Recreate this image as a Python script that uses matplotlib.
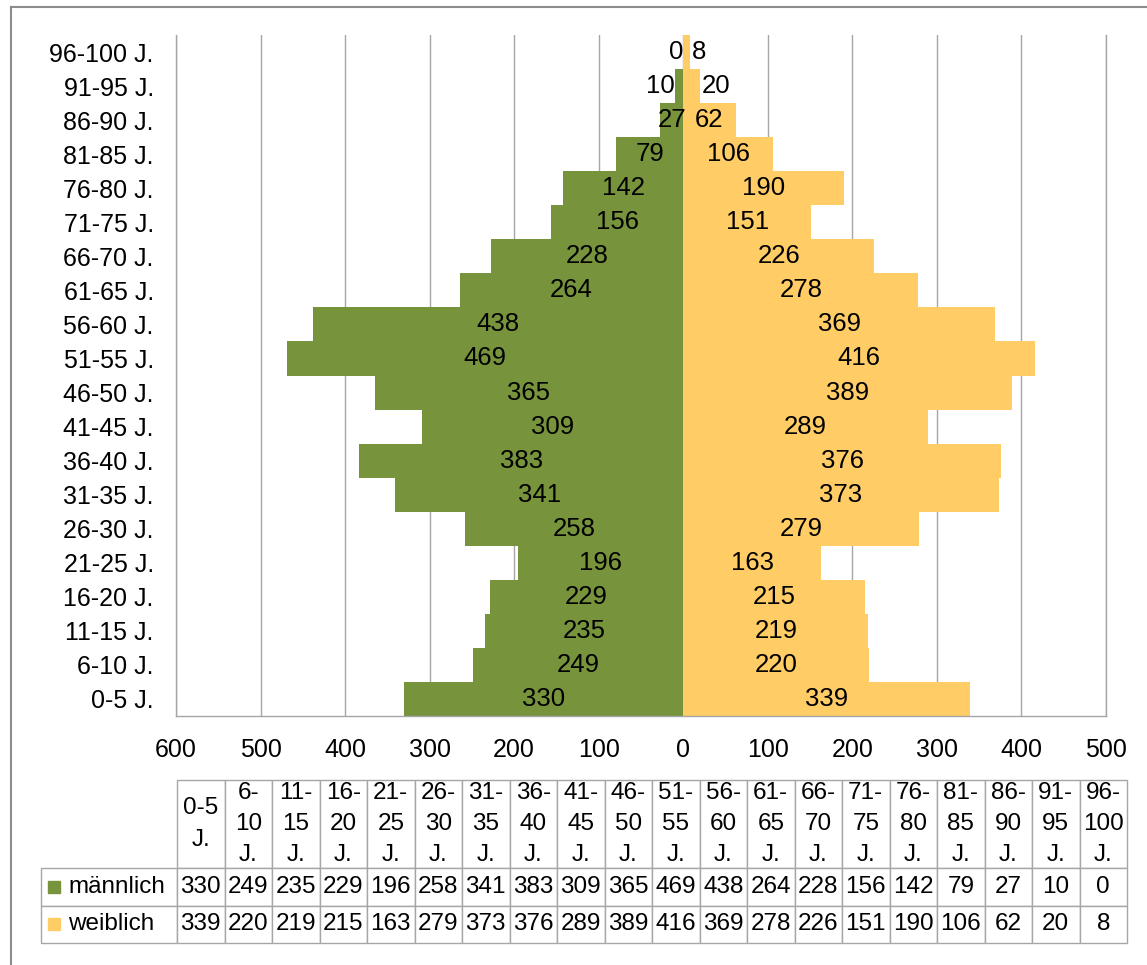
import matplotlib
import matplotlib.pyplot as plt
from matplotlib.lines import Line2D
from matplotlib.patches import Rectangle
from matplotlib.ticker import FuncFormatter

matplotlib.use("Agg")
plt.rcParams['font.family'] = ['Liberation Sans', 'DejaVu Sans']

AGE_GROUPS = ['0-5 J.', '6-10 J.', '11-15 J.', '16-20 J.', '21-25 J.', '26-30 J.',
              '31-35 J.', '36-40 J.', '41-45 J.', '46-50 J.', '51-55 J.', '56-60 J.',
              '61-65 J.', '66-70 J.', '71-75 J.', '76-80 J.', '81-85 J.', '86-90 J.',
              '91-95 J.', '96-100 J.']
MALE = [330, 249, 235, 229, 196, 258, 341, 383, 309, 365, 469, 438, 264, 228,
        156, 142, 79, 27, 10, 0]
FEMALE = [339, 220, 219, 215, 163, 279, 373, 376, 289, 389, 416, 369, 278, 226,
          151, 190, 106, 62, 20, 8]
SERIES_NAMES = ['männlich', 'weiblich']
X_TICKS = list(range(-600, 501, 100))

GREEN = '#77933C'
YELLOW = '#FFCC66'
GRID = '#A6A6A6'

W, H = 1147, 965  # figure size in pixels


def header_label(group):
    lo, rest = group.split('-')
    hi, unit = rest.split(' ')
    if len(lo) + len(hi) <= 2:
        return f"{lo}-{hi}\n{unit}"
    return f"{lo}-\n{hi}\n{unit}"


def main():
    fig = plt.figure(figsize=(W / 100, H / 100), dpi=100)

    # plot area in pixels
    left, right, top, bottom = 176, 1106, 35, 716
    pw, ph = right - left, bottom - top
    ax = fig.add_axes([left / W, 1 - bottom / H, pw / W, ph / H])

    y = list(range(len(AGE_GROUPS)))
    ax.barh(y, [-v for v in MALE], height=1.0, color=GREEN, zorder=2)
    ax.barh(y, FEMALE, height=1.0, color=YELLOW, zorder=2)

    ax.set_xlim(-600, 500)
    ax.set_ylim(-0.5, len(AGE_GROUPS) - 0.5)
    ax.set_xticks(X_TICKS)
    ax.xaxis.set_major_formatter(FuncFormatter(lambda v, _: f"{abs(int(round(v)))}"))
    ax.set_yticks(y)
    ax.set_yticklabels(AGE_GROUPS)
    ax.tick_params(length=0, labelsize=18, pad=16)
    ax.grid(axis='x', color=GRID, lw=1)
    ax.set_axisbelow(True)
    for side in ['left', 'bottom', 'right']:
        ax.spines[side].set_color(GRID)
        ax.spines[side].set_linewidth(1)
    ax.spines['top'].set_visible(False)

    # data labels: centred, or just outside when the bar is too narrow
    fs = 18.5
    for yi, m, f in zip(y, MALE, FEMALE):
        if m < 25:
            ax.text(-m, yi, str(m), ha='right', va='center', fontsize=fs, zorder=3)
        else:
            ax.text(-m / 2, yi, str(m), ha='center', va='center', fontsize=fs, zorder=3)
        if f < 25:
            ax.text(f + 2, yi, str(f), ha='left', va='center', fontsize=fs, zorder=3)
        else:
            ax.text(f / 2, yi, str(f), ha='center', va='center', fontsize=fs, zorder=3)

    # data table below the chart (bbox covers the data cells only)
    t_left, t_data, t_right, t_top, t_bottom = 39, 177, 1127, 780, 943
    head_h, row_h = 88, (t_bottom - t_top - 88) / 2
    lab_w = t_data - t_left
    col_w = (t_right - t_data) / len(AGE_GROUPS)
    cell_text = [[str(v) for v in MALE], [str(v) for v in FEMALE]]
    tab = ax.table(cellText=cell_text, rowLabels=SERIES_NAMES,
                   colLabels=[header_label(g) for g in AGE_GROUPS],
                   cellLoc='center', rowLoc='left', colLoc='center',
                   bbox=[(t_data - left) / pw, (bottom - t_bottom) / ph,
                         (t_right - t_data) / pw, (t_bottom - t_top) / ph])
    tab.auto_set_font_size(False)
    tab.set_fontsize(17.5)
    for (r, c), cell in tab.get_celld().items():
        cell.set_edgecolor(GRID)
        cell.set_linewidth(1)
        # sizes in axes fraction so the bbox scaling stays ~1
        cell.set_width((lab_w if c == -1 else col_w) / pw)
        cell.set_height((head_h if r == 0 else row_h) / ph)
        if r == 0:
            cell.get_text().set_linespacing(1.55)
        if c == -1:
            cell.PAD = 0.2

    # legend keys in the row label cells
    sq = 12
    for i, color in enumerate([GREEN, YELLOW]):
        cy = t_top + head_h + row_h * (i + 0.5)
        ax.add_patch(Rectangle(((48 - left) / pw, (bottom - cy - sq / 2) / ph),
                               sq / pw, sq / ph, transform=ax.transAxes,
                               color=color, clip_on=False))

    # outer chart border
    fig.add_artist(Line2D([11 / W, 1], [1 - 7 / H, 1 - 7 / H],
                          transform=fig.transFigure, color='#8C8C8C', lw=1.5))
    fig.add_artist(Line2D([11 / W, 11 / W], [0, 1 - 7 / H],
                          transform=fig.transFigure, color='#8C8C8C', lw=1.5))

    fig.savefig('out.png', dpi=100)


if __name__ == '__main__':
    main()
